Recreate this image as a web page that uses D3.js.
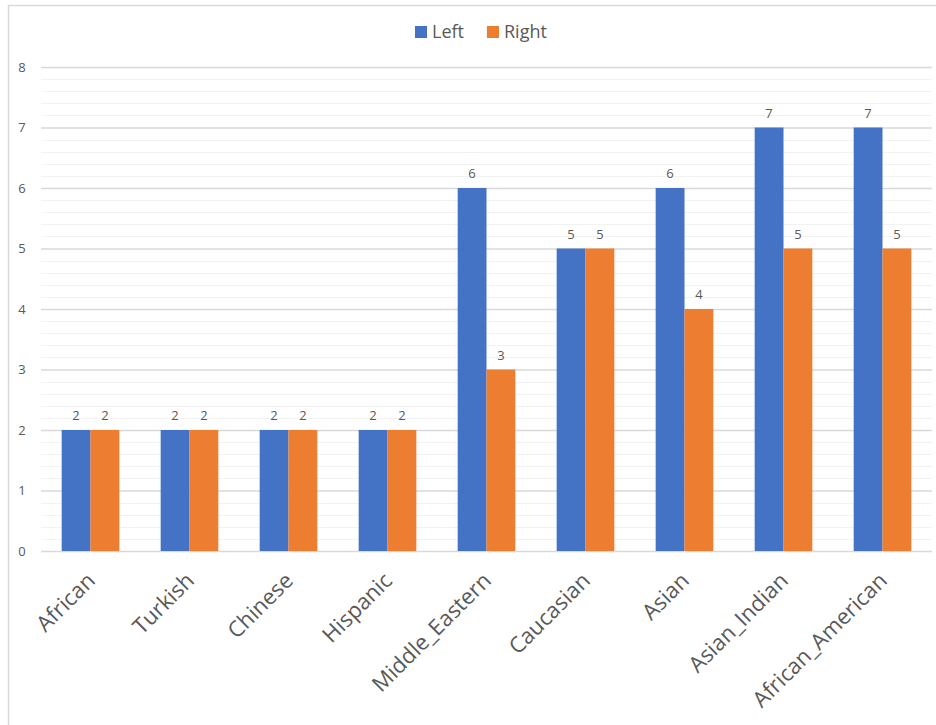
<!DOCTYPE html>
<html>
<head>
<meta charset="utf-8">
<script src="https://cdn.jsdelivr.net/npm/d3@7"></script>
<style>
  html, body { margin: 0; padding: 0; background: #fff; }
  svg { display: block; }
</style>
</head>
<body>
<svg id="chart" width="936" height="725"></svg>
<script>
const categories = ["African", "Turkish", "Chinese", "Hispanic", "Middle_Eastern", "Caucasian", "Asian", "Asian_Indian", "African_American"];
const leftValues = [2, 2, 2, 2, 6, 5, 6, 7, 7];
const rightValues = [2, 2, 2, 2, 3, 5, 4, 5, 5];
const seriesNames = ["Left", "Right"];
const seriesColors = ["#4472C4", "#ED7D31"];
const yTicks = [0, 1, 2, 3, 4, 5, 6, 7, 8];

const font = "'Open Sans', 'Liberation Sans', sans-serif";
const textColor = "#595959";

const svg = d3.select("#chart");
const plot = { left: 41, right: 932, top: 67, bottom: 551 };

// outer frame
svg.append("rect")
  .attr("x", 8.5).attr("y", 5.5)
  .attr("width", 940).attr("height", 740)
  .attr("fill", "#fff").attr("stroke", "#d9d9d9").attr("stroke-width", 1.5);

const x0 = d3.scaleBand().domain(categories).range([plot.left, plot.right]).paddingInner(0).paddingOuter(0);
const x1 = d3.scaleBand().domain(seriesNames).range([0, x0.bandwidth()]).paddingInner(0).paddingOuter(0.717);
const y = d3.scaleLinear().domain([0, 8]).range([plot.bottom, plot.top]);

// minor gridlines every 0.2
const minor = d3.range(0, 8.0001, 0.2).filter(v => Math.abs(v - Math.round(v)) > 1e-6);
svg.append("g").selectAll("line").data(minor).join("line")
  .attr("x1", plot.left).attr("x2", plot.right)
  .attr("y1", d => Math.round(y(d)) + 0.5).attr("y2", d => Math.round(y(d)) + 0.5)
  .attr("stroke", "#f2f2f2").attr("stroke-width", 1.2);

// major gridlines and value labels
const yAxis = d3.axisLeft(y).tickValues(yTicks).tickSize(-(plot.right - plot.left)).tickPadding(12).tickFormat(d3.format("d"));
const gy = svg.append("g").attr("transform", `translate(${plot.left},0)`).call(yAxis);
gy.select(".domain").remove();
gy.selectAll(".tick line").attr("stroke", "#d9d9d9").attr("stroke-width", 1.5);
gy.selectAll(".tick text")
  .attr("x", -19)
  .attr("fill", textColor).attr("font-family", font).attr("font-size", 13).attr("text-anchor", "middle");

// bars
const rows = categories.map((c, i) => ({ cat: c, vals: [leftValues[i], rightValues[i]] }));
const groups = svg.append("g").selectAll("g").data(rows).join("g")
  .attr("transform", d => `translate(${x0(d.cat)},0)`);

groups.selectAll("rect").data(d => d.vals.map((v, j) => ({ v, s: seriesNames[j], j }))).join("rect")
  .attr("x", d => x1(d.s))
  .attr("y", d => y(d.v))
  .attr("width", x1.bandwidth())
  .attr("height", d => y(0) - y(d.v))
  .attr("fill", d => seriesColors[d.j]);

groups.selectAll("text").data(d => d.vals.map((v, j) => ({ v, s: seriesNames[j], j }))).join("text")
  .attr("x", d => x1(d.s) + x1.bandwidth() / 2)
  .attr("y", d => y(d.v) - 10)
  .attr("text-anchor", "middle")
  .attr("fill", textColor).attr("font-family", font).attr("font-size", 13)
  .text(d => d.v);

// category axis labels, slanted
const xAxis = d3.axisBottom(x0).tickSize(0).tickPadding(0);
const gx = svg.append("g").attr("transform", `translate(0,${plot.bottom})`).call(xAxis);
gx.select(".domain").remove();
gx.selectAll(".tick text")
  .attr("fill", textColor).attr("font-family", font).attr("font-size", 22)
  .attr("text-anchor", "end")
  .attr("y", 0)
  .attr("dy", 0)
  .attr("transform", "translate(6,31) rotate(-45)");

// legend
const legend = svg.append("g");
const legendItems = [
  { name: seriesNames[0], color: seriesColors[0], x: 415 },
  { name: seriesNames[1], color: seriesColors[1], x: 487 }
];
legendItems.forEach(it => {
  legend.append("rect").attr("x", it.x).attr("y", 26).attr("width", 12).attr("height", 12).attr("fill", it.color);
  legend.append("text").attr("x", it.x + 17).attr("y", 38)
    .attr("fill", textColor).attr("font-family", font).attr("font-size", 18)
    .text(it.name);
});
</script>
</body>
</html>
